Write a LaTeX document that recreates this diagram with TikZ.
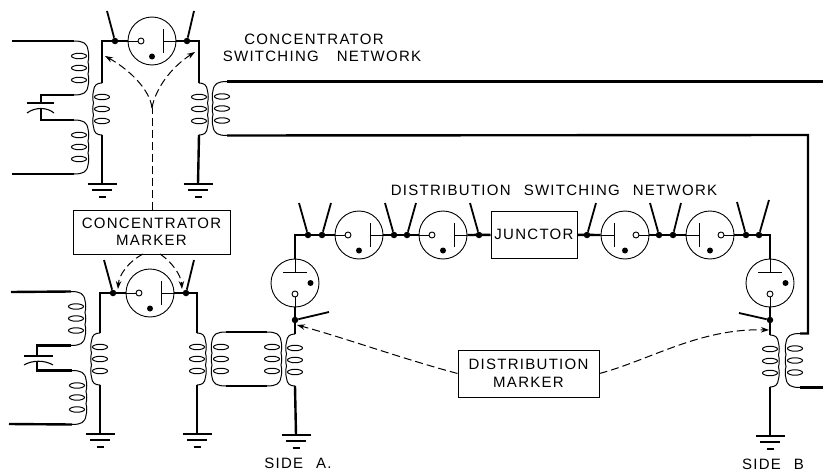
\documentclass[tikz,border=0pt]{standalone}
\usepackage{fontspec}
\setmainfont[LetterSpace=8.5,WordSpace=2.4]{Liberation Sans}
\usetikzlibrary{arrows.meta}
\tikzset{
	wire/.style = {line width=2.4pt},
	thin wire/.style = {line width=0.9pt},
	coil line/.style = {line width=1pt},
	contact/.style = {line width=1.8pt},
	bar/.style = {line width=1.1pt},
	signal/.style = {line width=1pt, dash pattern=on 8pt off 4pt, -{Stealth[length=8pt,width=5.5pt]}},
	jdot/.style = {circle, fill=black, inner sep=0pt, minimum size=6.5pt},
	tubebody/.style = {circle, draw, thin wire, inner sep=0pt, minimum size=48pt},
	cath/.style = {circle, draw, fill=white, thin wire, inner sep=0pt, minimum size=6pt},
	heater/.style = {circle, fill=black, inner sep=0pt, minimum size=6pt},
	box/.style = {draw, line width=1pt, align=center, inner sep=0pt},
	caption/.style = {font=\fontsize{15}{16.5}\selectfont, inner sep=0pt},
	pics/tube/.style = {code={
		\node [tubebody] (-b) at (0,0) {};
		\node [cath] (-c) at (-11,0) {};
		\node [heater] (-d) at (0,15.5) {};
		\draw [thin wire] (-24,0) -- (-c);
		\draw [thin wire] (11,0) -- (24,0);
		\draw [line width=1pt] (11,-12) -- (11,12);
	}},
	pics/coilv/.style = {code={
		\coordinate (-t) at (0,-26);
		\coordinate (-b) at (0,26);
		\draw [coil line] (-t) .. controls (5,-26) and (8,-24) .. (8.5,-18)
			.. controls (9.5,-14) and (9.5,-10) .. (8.5,-6)
			.. controls (9.5,-2) and (9.5,2) .. (8.5,6)
			.. controls (9.5,10) and (9.5,14) .. (8.5,18)
			.. controls (8,24) and (5,26) .. (-b);
		\foreach \oy in {-12,0,12}
			\draw [coil line] (0,\oy) ellipse [x radius=7.5, y radius=2.7];
	}},
	pics/coilh/.style = {code={
		\coordinate (-t) at (-5,-27);
		\coordinate (-b) at (-5,27);
		\draw [coil line] (-t) .. controls (4,-27) and (8,-25) .. (9,-18)
			.. controls (10,-14) and (10,-10) .. (9,-6)
			.. controls (10,-2) and (10,2) .. (9,6)
			.. controls (10,10) and (10,14) .. (9,18)
			.. controls (8,25) and (4,27) .. (-b);
		\foreach \oy in {-12,0,12}
			\draw [coil line] (0,\oy) ellipse [x radius=7.5, y radius=2.7];
	}},
	pics/earth/.style = {code={
		\coordinate (-a) at (0,0);
		\draw [bar] (-14.5,0) -- (14.5,0);
		\draw [bar] (-10,6) -- (10,6);
		\draw [bar] (-3.5,13) -- (3.5,13);
	}}
}

\begin{document}
\begin{tikzpicture}[x=1pt, y=-1pt]
	\useasboundingbox (0,0) rectangle (823,471);

	% boxes and captions
	\node [box, minimum width=157pt, minimum height=44pt, caption] (mC) at (151.5,232) {CONCENTRATOR\\MARKER};
	\node [box, minimum width=141pt, minimum height=47pt, caption] (mD) at (528.5,373.5) {DISTRIBUTION\\[1.5pt]MARKER};
	\node [box, minimum width=86pt, minimum height=47pt, caption] (jct) at (534,234.5) {JUNCTOR};
	\node [caption] (capA) at (314,39) {CONCENTRATOR};
	\node [caption] (capB) at (322,56) {SWITCHING\hspace{5pt} NETWORK};
	\node [caption] (capC) at (554,190) {DISTRIBUTION SWITCHING NETWORK};
	\node [caption] (sideA) at (298,463) {SIDE A.};
	\node [caption] (sideB) at (773,464) {SIDE B};

	% tubes
	\pic (tU) at (152,41) {tube};
	\pic (tL) at (150,293) {tube};
	\pic (t1) at (359,235) {tube};
	\pic (t2) at (443,235) {tube};
	\pic [xscale=-1] (t3) at (625,235) {tube};
	\pic [xscale=-1] (t4) at (710,235) {tube};
	\pic [rotate=90] (tA) at (295,283) {tube};
	\pic [rotate=90] (tB) at (770,283) {tube};

	% coils
	\pic (cU1) at (79,68) {coilh};
	\pic (cU2) at (79,147) {coilh};
	\pic [xscale=-1] (cU3) at (102,109) {coilv};
	\pic (cU4) at (199,109) {coilv};
	\pic [xscale=-1] (cU5) at (222,108.5) {coilh};
	\pic (cL1) at (76,318.5) {coilh};
	\pic (cL2) at (77,397.5) {coilh};
	\pic [xscale=-1] (cL3) at (100,359) {coilv};
	\pic (cL4) at (197,359) {coilv};
	\pic [xscale=-1] (cL5) at (221,359) {coilh};
	\pic (cL6) at (272,359) {coilh};
	\pic [xscale=-1] (cA) at (295,360) {coilv};
	\pic (cB) at (770,361) {coilv};
	\pic [xscale=-1] (cS) at (795,360.5) {coilh};

	% earths
	\pic (gU3) at (102,184) {earth};
	\pic (gU4) at (198,184) {earth};
	\pic (gL3) at (100,434) {earth};
	\pic (gL4) at (197,434) {earth};
	\pic (gA) at (296,435) {earth};
	\pic (gB) at (770,436) {earth};

	% line ends and corners
	\coordinate (inU1) at (12,41);
	\coordinate (inU2) at (12,174);
	\coordinate (inL1) at (11,292);
	\coordinate (inL2) at (9,424);
	\coordinate (outT) at (823,81);
	\coordinate (outB) at (823,387.5);
	\coordinate (bend) at (808,135);

	% upper concentrator
	\draw [wire] (inU1) -- (cU1-t);
	\draw [wire] (inU2) -- (cU2-b);
	\draw [wire] (cU3-t) |- (tU-b.west);
	\draw [wire] (cU4-t) |- (tU-b.east);
	\draw [wire] (cU3-b) -- (gU3-a);
	\draw [wire] (cU4-b) -- (gU4-a);
	\draw [wire] (cU5-t) -- (cU5-t -| outT);
	\draw [wire] (cU5-b) -- (bend) -- (bend |- cS-t) -- (cS-t);
	\draw [wire] (cS-b) -- (outB);

	% condensers
	\coordinate (kU1) at (41,103);
	\coordinate (kU2) at (41,108);
	\coordinate (kL1) at (37,356);
	\coordinate (kL2) at (37,361);
	\draw [wire] (cU1-b) -| (kU1);
	\draw [wire] (kU2) |- (cU2-t);
	\draw [wire] (cL1-b) -| (kL1);
	\draw [wire] (kL2) |- (cL2-t);
	\draw [bar] (27,103) -- (54,103);
	\draw [bar] (27,113) .. controls (35,107) and (47,107) .. (54,113);
	\draw [bar] (24,356) -- (53,356);
	\draw [bar] (24,365) .. controls (32,360) and (45,360) .. (53,365);

	% lower concentrator
	\draw [wire] (inL1) -- (cL1-t);
	\draw [wire] (inL2) -- (cL2-b);
	\draw [wire] (cL3-t) |- (tL-b.west);
	\draw [wire] (cL4-t) |- (tL-b.east);
	\draw [wire] (cL3-b) -- (gL3-a);
	\draw [wire] (cL4-b) -- (gL4-a);
	\draw [wire] (cL5-t) -- (cL6-t);
	\draw [wire] (cL5-b) -- (cL6-b);

	% distribution network
	\draw [wire] (tA-b.north) |- (t1-b.west);
	\draw [wire] (t1-b.east) -- (t2-b.west);
	\draw [wire] (t2-b.east) -- (jct);
	\draw [wire] (jct) -- (t3-b.west);
	\draw [wire] (t3-b.east) -- (t4-b.west);
	\draw [wire] (t4-b.east) -| (tB-b.north);
	\draw [wire] (tA-b.south) -- (cA-t);
	\draw [wire] (tB-b.south) -- (cB-t);
	\draw [wire] (cA-b) -- (gA-a);
	\draw [wire] (cB-b) -- (gB-a);

	% switch points and their contacts
	\foreach \nm/\jx/\jy/\tx/\ty in {
		a/115/41/107/11, b/187/41/194/11,
		c/113/293/104/260, d/186/293/194/260,
		e/308/235/299/203, f/322/235/331/203,
		g/394/235/385/203, h/407/235/416/203,
		i/479/235/470/203, j/587/235/596/203,
		k/659/235/650/203, l/673/235/681/203,
		m/746/235/737/202, n/759/235/769/200,
		o/295/320/329/312, p/770/320/739/313}{
		\node [jdot] (j\nm) at (\jx,\jy) {};
		\coordinate (e\nm) at (\tx,\ty);
		\draw [contact] (j\nm) -- (e\nm);
	}

	% marker paths
	\coordinate (fork) at (152,108);
	\coordinate (tipA) at (105,56);
	\coordinate (tipB) at (195,52);
	\coordinate (outC) at (143,254);
	\coordinate (outD) at (160,254);
	\coordinate (tipC) at (118,289);
	\coordinate (tipD) at (182,289);
	\coordinate (tipE) at (297,325);
	\coordinate (tipF) at (769,330);
	\draw [signal, -] (mC.north -| fork) -- (fork);
	\draw [signal] (fork) .. controls (150,90) and (130,70) .. (tipA);
	\draw [signal] (fork) .. controls (155,90) and (170,68) .. (tipB);
	\draw [signal] (outC) .. controls (128,262) and (119,275) .. (tipC);
	\draw [signal] (outD) .. controls (172,262) and (181,275) .. (tipD);
	\draw [signal] (mD.west) .. controls (400,358) and (345,338) .. (tipE);
	\draw [signal] (mD.east) .. controls (650,360) and (700,328) .. (tipF);
\end{tikzpicture}
\end{document}
